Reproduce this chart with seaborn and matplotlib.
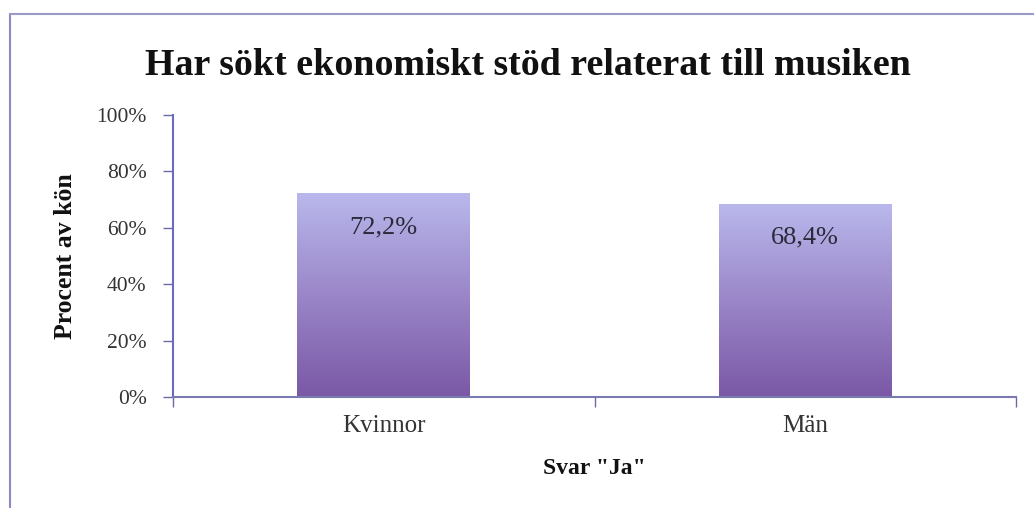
import matplotlib
matplotlib.use("Agg")
import matplotlib.pyplot as plt
import seaborn as sns
import numpy as np
import pandas as pd
from matplotlib.lines import Line2D
from matplotlib.colors import LinearSegmentedColormap

categories = ["Kvinnor", "Män"]
values = [72.2, 68.4]
value_labels = ["72,2%", "68,4%"]
yticks = [0, 20, 40, 60, 80, 100]
ytick_labels = ["0%", "20%", "40%", "60%", "80%", "100%"]
title = "Har sökt ekonomiskt stöd relaterat till musiken"
xlabel = 'Svar "Ja"'
ylabel = "Procent av kön"

sns.set_theme(style="white")
plt.rcParams['font.family'] = ['Liberation Serif', 'DejaVu Serif']

W, H = 1034, 508
fig = plt.figure(figsize=(W / 100, H / 100), dpi=100)
ax = fig.add_axes([173 / W, 1 - 397 / H, (1016 - 173) / W, (397 - 115) / H])

df = pd.DataFrame({"cat": categories, "val": values})
sns.barplot(data=df, x="cat", y="val", width=0.41, ax=ax, color="#9f90d0")

cmap = LinearSegmentedColormap.from_list("g", ["#7a58a6", "#9a86c8", "#b9b8ec"])
grad = np.linspace(0, 1, 256).reshape(-1, 1)
for p in ax.patches:
    x0, y0 = p.get_x(), p.get_y()
    w, h = p.get_width(), p.get_height()
    p.set_facecolor("none")
    p.set_edgecolor("none")
    im = ax.imshow(grad, cmap=cmap, aspect="auto", origin="lower",
                   extent=[x0, x0 + w, y0, y0 + h], zorder=2)
    im.set_clip_path(p)

ax.set_xlim(-0.5, 1.5)
ax.set_ylim(0, 100)

for i, (v, lab) in enumerate(zip(values, value_labels)):
    ax.text(i, v - 12, lab, ha="center", va="center", fontsize=19,
            color="#2a2a3a", zorder=3)

ax.set_yticks(yticks)
ax.set_yticklabels(ytick_labels, fontsize=15.5, color="#333333")
ax.set_xticks([0, 1])
ax.set_xticklabels(categories, fontsize=18, color="#333333")
ax.set_xticks([-0.5, 0.5, 1.5], minor=True)

ax.tick_params(axis="y", which="major", left=True, length=7, width=1,
               color="#6a6aa8", pad=12, direction="out")
ax.tick_params(axis="x", which="major", bottom=False, pad=7)
ax.tick_params(axis="x", which="minor", bottom=True, length=7, width=1,
               color="#6a6aa8", direction="out")

for s in ["top", "right"]:
    ax.spines[s].set_visible(False)
ax.spines["left"].set_color("#6a6ac0")
ax.spines["left"].set_linewidth(1.5)
ax.spines["bottom"].set_color("#7a7ab0")
ax.spines["bottom"].set_linewidth(1.5)

ax.set_xlabel(xlabel, fontsize=17, fontweight="bold", color="#111111", labelpad=15)
ax.set_ylabel(ylabel, fontsize=18.5, fontweight="bold", color="#111111", labelpad=14)

fig.text(528 / W, 1 - 75 / H, title, ha="center", va="baseline",
         fontsize=27.3, fontweight="bold", color="#111111")

# outer frame
fig.add_artist(Line2D([10 / W, 10 / W], [0, 1 - 14 / H], transform=fig.transFigure,
                      color="#8a8ac8", lw=1.5))
fig.add_artist(Line2D([10 / W, 1], [1 - 14 / H, 1 - 14 / H], transform=fig.transFigure,
                      color="#9a9ac8", lw=1.5))

fig.savefig("out.png", dpi=100)
